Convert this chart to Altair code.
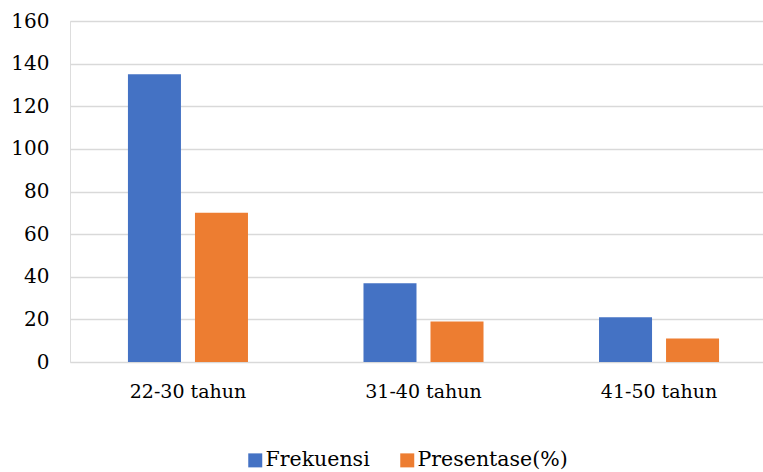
import altair as alt
import pandas as pd

# Age groups and the two series shown per group
categories = ["22-30 tahun", "31-40 tahun", "41-50 tahun"]
frekuensi = [135, 37, 21]
presentase = [70, 19, 11]
series_names = ["Frekuensi", "Presentase(%)"]
y_ticks = [0, 20, 40, 60, 80, 100, 120, 140, 160]

rows = []
for cat, f, p in zip(categories, frekuensi, presentase):
    rows.append({"kelompok": cat, "seri": series_names[0], "nilai": f})
    rows.append({"kelompok": cat, "seri": series_names[1], "nilai": p})
df = pd.DataFrame(rows)

FONT = "DejaVu Serif"

chart = (
    alt.Chart(df)
    .mark_bar()
    .encode(
        x=alt.X(
            "kelompok:N",
            sort=categories,
            title=None,
            scale=alt.Scale(range=[0, 707], paddingInner=0.4904, paddingOuter=0.246),
            axis=alt.Axis(
                labelAngle=0,
                domain=False,
                ticks=False,
                labelPadding=20,
                labelFont=FONT,
                labelFontSize=19,
                labelColor="#000000",
            ),
        ),
        xOffset=alt.XOffset(
            "seri:N", sort=series_names, scale=alt.Scale(paddingInner=0.209)
        ),
        y=alt.Y(
            "nilai:Q",
            title=None,
            scale=alt.Scale(domain=[0, 160], nice=False),
            axis=alt.Axis(
                values=y_ticks,
                domain=False,
                ticks=False,
                labelPadding=21,
                labelFont=FONT,
                labelFontSize=20,
                labelColor="#000000",
                gridColor="#D9D9D9",
                gridWidth=1.5,
            ),
        ),
        color=alt.Color(
            "seri:N",
            sort=series_names,
            scale=alt.Scale(domain=series_names, range=["#4472C4", "#ED7D31"]),
            legend=alt.Legend(
                title=None,
                orient="none",
                direction="horizontal",
                legendX=175,
                legendY=429,
                symbolType="square",
                symbolSize=196,
                symbolStrokeWidth=0,
                labelFont=FONT,
                labelFontSize=20.5,
                labelColor="#000000",
                labelLimit=300,
                labelOffset=0,
                columnPadding=27,
            ),
        ),
    )
    .properties(
        width=693,
        height=341,
        autosize=alt.AutoSizeParams(type="none"),
        padding={"left": 70, "top": 21, "right": 0, "bottom": 110},
    )
    .configure_view(stroke=None)
    .configure(background="white", font=FONT)
)

chart.save("out.html", embed_options={"renderer": "svg", "actions": False})
